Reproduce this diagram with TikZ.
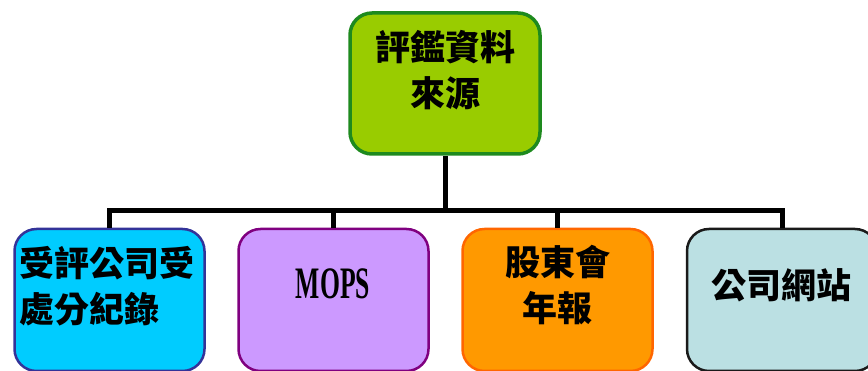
\documentclass[tikz,border=0pt]{standalone}
\usepackage{fontspec}
\usepackage{graphicx}
\setmainfont{Liberation Serif}
\newfontfamily\cjk{Noto Sans CJK TC}
\definecolor{topfill}{HTML}{99CC00}
\definecolor{topdraw}{HTML}{1E8A1E}
\definecolor{afill}{HTML}{00CCFF}
\definecolor{adraw}{HTML}{333399}
\definecolor{bfill}{HTML}{CC99FF}
\definecolor{bdraw}{HTML}{800080}
\definecolor{cfill}{HTML}{FF9900}
\definecolor{cdraw}{HTML}{FF6600}
\definecolor{dfill}{HTML}{BBE0E3}
\definecolor{ddraw}{HTML}{1A1A1A}
\tikzset{
  boxshape/.style={rectangle, rounded corners=22pt, inner sep=0pt, minimum width=190pt, minimum height=142pt},
  conn/.style={line width=5pt, draw=black},
  cjktext/.style={font=\cjk\bfseries\fontsize{35}{46}\selectfont, inner sep=0pt},
}
\begin{document}
\begin{tikzpicture}[x=1pt,y=-1pt]
\useasboundingbox (0,0) rectangle (868,371);
\node[boxshape, fill=topfill, draw=topdraw, line width=3.5pt, minimum height=141pt] (top) at (445,83.5) {};
\node[boxshape, fill=afill, draw=adraw, line width=2.5pt] (b1) at (109.5,300) {};
\node[boxshape, fill=bfill, draw=bdraw, line width=2.5pt] (b2) at (333.5,300) {};
\node[boxshape, fill=cfill, draw=cdraw, line width=2.5pt] (b3) at (557.5,300) {};
\node[boxshape, fill=dfill, draw=ddraw, line width=2.5pt] (b4) at (782,300) {};
\coordinate (bar) at (445,211);
\draw[conn] (top.south) -- (bar);
\draw[conn] (b1.north) -- (b1.north |- bar) -- (b4.north |- bar) -- (b4.north);
\draw[conn] (b2.north) -- (b2.north |- bar);
\draw[conn] (b3.north) -- (b3.north |- bar);
\node[cjktext, align=center] (t0) at (445,70) {評鑑資料\\來源};
\node[cjktext, align=left, anchor=west] (t1) at (19,286) {受評公司受\\處分紀錄};
\node[inner sep=0pt] (t2) at (333,284) {\scalebox{0.57}[1]{\bfseries\fontsize{45}{50}\selectfont MOPS}};
\node[cjktext, align=center] (t3) at (557.5,285) {股東會\\年報};
\node[cjktext] (t4) at (781,285) {公司網站};
\end{tikzpicture}
\end{document}
